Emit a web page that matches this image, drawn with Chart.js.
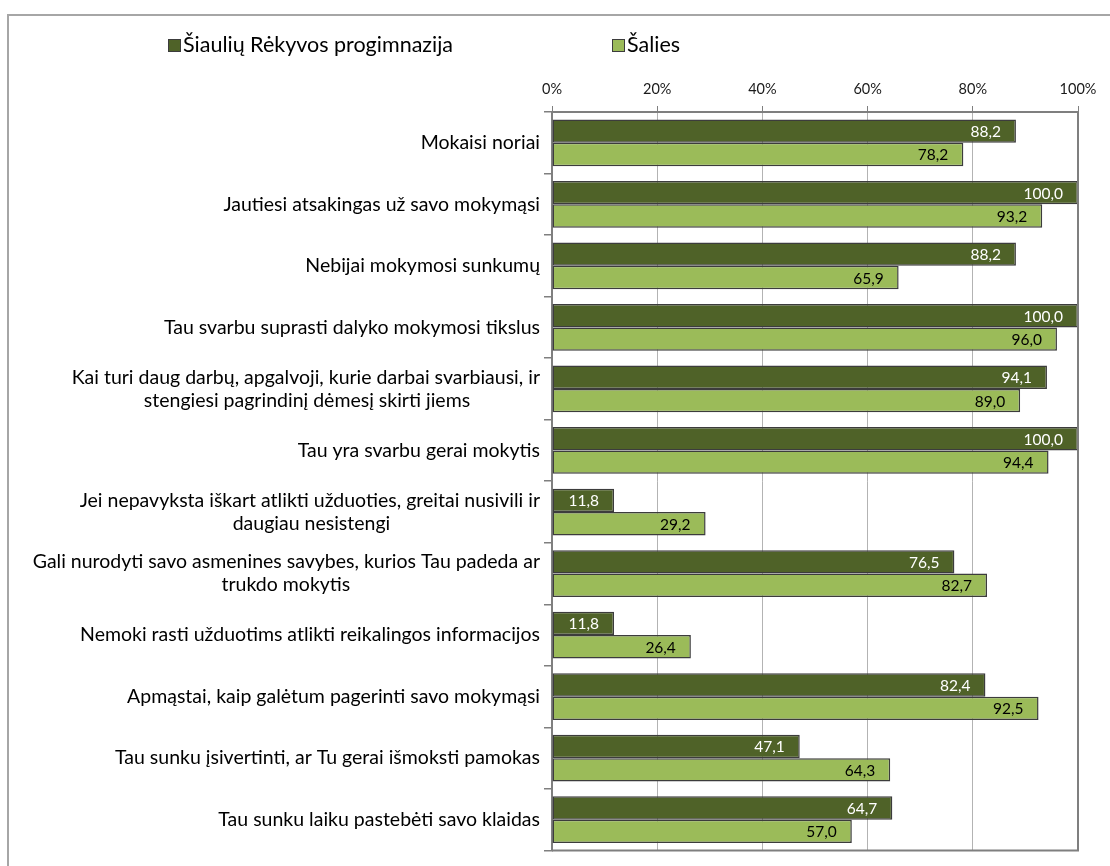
<!DOCTYPE html>
<html><head><meta charset="utf-8">
<script src="https://cdn.jsdelivr.net/npm/chart.js@4.4.0/dist/chart.umd.min.js"></script>
<style>html,body{margin:0;padding:0;background:#fff;overflow:hidden;} #c{display:block;}</style>
</head><body>
<canvas id="c" width="1110" height="866"></canvas>
<script>
const categories = [
  ["Mokaisi noriai"],
  ["Jautiesi atsakingas už savo mokymąsi"],
  ["Nebijai mokymosi sunkumų"],
  ["Tau svarbu suprasti dalyko mokymosi tikslus"],
  ["Kai turi daug darbų, apgalvoji, kurie darbai svarbiausi, ir", "stengiesi pagrindinį dėmesį skirti jiems"],
  ["Tau yra svarbu gerai mokytis"],
  ["Jei nepavyksta iškart atlikti užduoties, greitai nusivili ir", "daugiau nesistengi"],
  ["Gali nurodyti savo asmenines savybes, kurios Tau padeda ar", "trukdo mokytis"],
  ["Nemoki rasti užduotims atlikti reikalingos informacijos"],
  ["Apmąstai, kaip galėtum pagerinti savo mokymąsi"],
  ["Tau sunku įsivertinti, ar Tu gerai išmoksti pamokas"],
  ["Tau sunku laiku pastebėti savo klaidas"]
];
const seriesNames = ["Šiaulių Rėkyvos progimnazija", "Šalies"];
const schoolValues  = [88.2, 100.0, 88.2, 100.0, 94.1, 100.0, 11.8, 76.5, 11.8, 82.4, 47.1, 64.7];
const countryValues = [78.2, 93.2, 65.9, 96.0, 89.0, 94.4, 29.2, 82.7, 26.4, 92.5, 64.3, 57.0];
const xTickValues = [0, 20, 40, 60, 80, 100];

const DARK = '#4f6228', LIGHT = '#9bbb59', EDGE = '#3c3c3c';
const FONT = 'Lato, "Open Sans", sans-serif';
const CAT_FONT_SIZE = 19.5;

const measureCtx = document.createElement('canvas').getContext('2d');
function centerLines(lines) {
  measureCtx.font = CAT_FONT_SIZE + 'px ' + FONT;
  if (lines.length < 2) return lines;
  const widths = lines.map(l => measureCtx.measureText(l).width);
  const maxW = Math.max(...widths);
  const sp = measureCtx.measureText('\u00A0').width;
  return lines.map((l, i) => {
    const n = Math.round((maxW - widths[i]) / 2 / sp);
    return l + '\u00A0'.repeat(n);
  });
}
const fmt = v => v.toFixed(1).replace('.', ',');

const framePlugin = {
  id: 'frame',
  beforeDraw(chart) {
    const ctx = chart.ctx;
    ctx.save();
    ctx.fillStyle = '#fff';
    ctx.fillRect(0, 0, chart.width, chart.height);
    ctx.strokeStyle = '#a6a6a6';
    ctx.lineWidth = 2;
    ctx.strokeRect(8, 15, 1200, 1000);
    ctx.restore();
  },
  afterDraw(chart) {
    const {ctx, chartArea: a} = chart;
    ctx.save();
    ctx.strokeStyle = '#7f7f7f';
    ctx.lineWidth = 2;
    ctx.beginPath();
    ctx.moveTo(a.right, a.top);
    ctx.lineTo(a.right, a.bottom);
    ctx.lineTo(a.left, a.bottom);
    ctx.stroke();
    ctx.restore();
  }
};

const valueLabels = {
  id: 'valueLabels',
  afterDatasetsDraw(chart) {
    const ctx = chart.ctx;
    ctx.save();
    ctx.font = '15.5px ' + FONT;
    ctx.textAlign = 'right';
    ctx.textBaseline = 'middle';
    chart.data.datasets.forEach((ds, di) => {
      const meta = chart.getDatasetMeta(di);
      ctx.fillStyle = di === 0 ? '#ffffff' : '#000000';
      meta.data.forEach((bar, i) => {
        ctx.fillText(fmt(ds.data[i]), bar.x - 15, bar.y + 1);
      });
    });
    ctx.restore();
  }
};

const legendPlugin = {
  id: 'customLegend',
  afterDraw(chart) {
    const ctx = chart.ctx;
    const xs = [168, 612];
    ctx.save();
    ctx.font = '21.5px ' + FONT;
    ctx.textBaseline = 'middle';
    ctx.textAlign = 'left';
    chart.data.datasets.forEach((ds, i) => {
      const x = xs[i], y = 45;
      ctx.fillStyle = ds.backgroundColor;
      ctx.fillRect(x, y - 6, 13, 13);
      ctx.strokeStyle = EDGE;
      ctx.lineWidth = 1;
      ctx.strokeRect(x + 0.5, y - 5.5, 12, 12);
      ctx.fillStyle = '#000';
      ctx.fillText(ds.label, x + 15, y);
    });
    ctx.restore();
  }
};

new Chart(document.getElementById('c'), {
  type: 'bar',
  data: {
    labels: categories,
    datasets: [
      { label: seriesNames[0], data: schoolValues, backgroundColor: DARK, borderColor: EDGE, borderWidth: 1.5, borderSkipped: false },
      { label: seriesNames[1], data: countryValues, backgroundColor: LIGHT, borderColor: EDGE, borderWidth: 1.5, borderSkipped: false }
    ]
  },
  options: {
    indexAxis: 'y',
    responsive: false,
    animation: false,
    devicePixelRatio: 1,
    layout: { padding: { left: 0, right: 32, top: 0, bottom: 13 } },
    datasets: { bar: { categoryPercentage: 0.76, barPercentage: 1.0 } },
    plugins: { legend: { display: false }, tooltip: { enabled: false } },
    scales: {
      x: {
        position: 'top',
        min: 0, max: 100,
        afterBuildTicks(scale) { scale.ticks = xTickValues.map(v => ({ value: v })); },
        afterFit(scale) { scale.height = 112; },
        ticks: {
          callback: v => v + '%',
          color: '#1a1a1a',
          font: { family: FONT, size: 14.5 },
          padding: 8,
          maxRotation: 0
        },
        grid: { color: '#b3b3b3', lineWidth: 1, tickLength: 6, tickColor: '#7f7f7f', drawOnChartArea: true },
        border: { color: '#7f7f7f', width: 2 }
      },
      y: {
        afterFit(scale) { scale.width = 552; },
        ticks: {
          callback: function (v, i) { return centerLines(categories[i]); },
          color: '#000',
          font: { family: FONT, size: CAT_FONT_SIZE, lineHeight: '23px' },
          padding: 4,
          autoSkip: false
        },
        grid: { offset: true, drawOnChartArea: false, tickLength: 8, color: '#7f7f7f', lineWidth: 1.5 },
        border: { color: '#7f7f7f', width: 2 }
      }
    }
  },
  plugins: [framePlugin, valueLabels, legendPlugin]
});
</script>
</body></html>
